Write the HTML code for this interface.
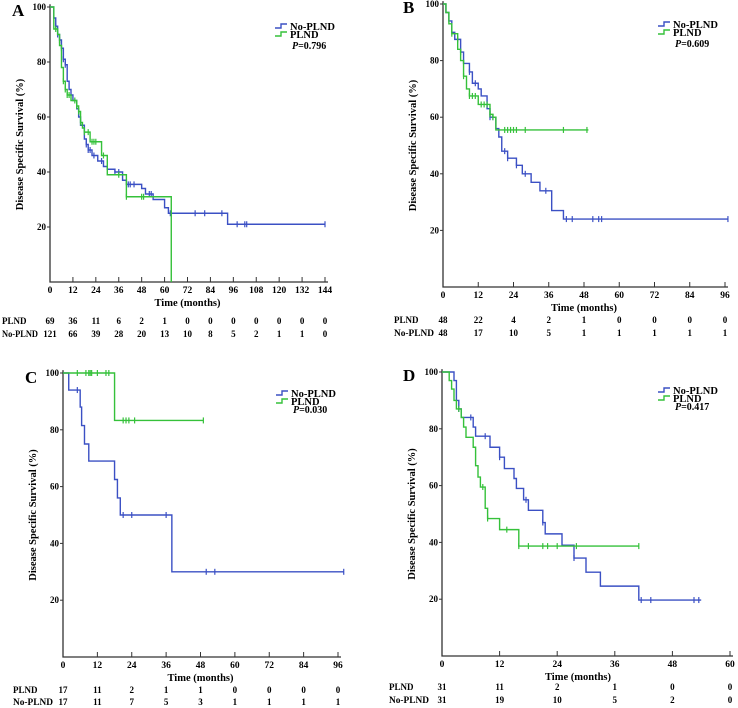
<!DOCTYPE html>
<html><head><meta charset="utf-8"><style>
html,body{margin:0;padding:0;background:#fff;}
svg{display:block;font-family:"Liberation Serif",serif;font-weight:bold;}
</style></head><body>
<svg id="c" width="738" height="708" viewBox="0 0 738 708"></svg>
<script>
// Panel A data
const aTicks=[0,12,24,36,48,60,72,84,96,108,120,132,144];
const aBlueT=[0,2,3,4,5,6,7,8,9,10,11,12,14,15,16,18,19,20,22,25,28,30,34,38,40,48,50,54,60,62,93];
const aBlueS=[100,96,93,90,88,85,81,79,73,70,68,66,63,60,57,52,50,48,46,44,42,41,40,37,35.5,34,32,30,27,25,21];
const aBlueC=[3,4,5,6,7,8,19,20,21,23,27,34,36,41,42,44,52,53,63,76,81,90,98,102,103,144];
const aGreenT=[0,2,4,5,6,7,8,9,11,14,15,16,17,18,21,27,30,38,40,63.5];
const aGreenS=[100,92,90,86,78,73,70,68,66,64,62,58,56,54.5,51,46,39,39,31,0];
const aGreenC=[3,7,8,9,10,13,14,15,16,18,20,22,23,24,28,36,40,48,49];
const aRiskP=[69,36,11,6,2,1,0,0,0,0,0,0,0];
const aRiskN=[121,66,39,28,20,13,10,8,5,2,1,1,0];
// Panel B data
const bTicks=[0,12,24,36,48,60,72,84,96];
const bBlueT=[0,1,2,3,4,6,7,9,10,12,13,15,16,18,19,20,22,25,27,30,33,37,41];
const bBlueS=[100,97,94,90,87.5,83,79,76,72,70,67.5,63,60,56,53,48,45.5,43,40,37,34,27,24];
const bBlueC=[5,6,9,11,16,17,21,22,25,28,35,42,44,51,53,54,97];
const bGreenT=[0,1,2,3,5,6,7,8,9,12,16,17,18];
const bGreenS=[100,97,93,89.5,84,80,74.5,70,67.5,64.5,61,60,55.5];
const bGreenC=[3,7,9,10,11,13,14,15,16,17,21,22,23,24,25,28,41,49];
const bRiskP=[48,22,4,2,1,0,0,0,0];
const bRiskN=[48,17,10,5,1,1,1,1,1];
// Panel C data
const cTicks=[0,12,24,36,48,60,72,84,96];
const cBlueT=[0,2,6,6.5,7.5,9,18,19,20,38];
const cBlueS=[100,94,88,81.5,75,69,62.5,56,50,30];
const cBlueC=[5,21,24,36,50,53,98];
const cGreenT=[0,18];
const cGreenS=[100,83.3];
const cGreenC=[5,8,9,9.5,10,12,15,16,21,22,23,25,49];
const cRiskP=[17,11,2,1,1,0,0,0,0];
const cRiskN=[17,11,7,5,3,1,1,1,1];
// Panel D data
const dTicks=[0,12,24,36,48,60];
const dBlueT=[0,2.5,3,3.5,4,6.5,7,10,12,13,15,15.5,17,18,21,21.5,25,27.5,30,33,41];
const dBlueS=[100,97,90,87,84,80.6,77.4,73.5,70,66,62.5,59,55,51.3,47,43,39,34.5,29.5,24.6,19.7];
const dBlueC=[3.5,6,9,12,17.5,21,27.5,41.5,43.5,52.5,53.5];
const dGreenT=[0,1.5,2,2.5,3,4,4.5,5,6.5,7,7.5,8,9,9.5,12,16];
const dGreenS=[100,97,94,90,87,84,80.6,77,73.5,67,63,59.5,52,48.4,44.5,38.7];
const dGreenC=[3.5,8.5,9.5,13.5,16,18,21,22,24,28,41];
const dRiskP=[31,11,2,1,0,0];
const dRiskN=[31,19,10,5,2,0];

const NS='http://www.w3.org/2000/svg';
const svg=document.getElementById('c');
function mk(tag,attrs,parent,text){const e=document.createElementNS(NS,tag);for(const k in attrs)e.setAttribute(k,attrs[k]);if(text!==undefined)e.textContent=text;(parent||svg).appendChild(e);return e;}
const BLUE='#3b50c4',GREEN='#35c13a',AX='#333';

function panel(cfg){
  const g=mk('g',{});
  
  
  const X=t=>cfg.x0+t*(cfg.x1-cfg.x0)/cfg.tmax;
  const Y=v=>cfg.y0-v*(cfg.y0-cfg.y100)/100;
  const lbl=mk('text',{x:cfg.lx,y:cfg.ly,'font-size':17},g,cfg.id);
  
  const ax=mk('path',{d:`M${cfg.x0},${Y(101)}V${cfg.y0}H${cfg.x1+3}`,stroke:AX,'stroke-width':1.3,fill:'none'},g);
  
  [20,40,60,80,100].forEach(v=>{
    mk('line',{x1:cfg.x0-3,x2:cfg.x0,y1:Y(v),y2:Y(v),stroke:AX},g);
    const t=mk('text',{x:cfg.x0-4,y:Y(v)+3,'font-size':9,'text-anchor':'end'},g,v);
    
  });
  cfg.ticks.forEach((tk,i)=>{
    mk('line',{x1:X(tk),x2:X(tk),y1:cfg.y0,y2:cfg.y0-5,stroke:AX},g);
    const t=mk('text',{x:X(tk),y:cfg.y0+11,'font-size':9.5,'text-anchor':'middle'},g,tk);
    
    const r1=mk('text',{x:X(tk),y:cfg.r1,'font-size':9,'text-anchor':'middle'},g,cfg.riskP[i]);
    
    const r2=mk('text',{x:X(tk),y:cfg.r2,'font-size':9,'text-anchor':'middle'},g,cfg.riskN[i]);
    
  });
  const rl1=mk('text',{x:cfg.rlx,y:cfg.r1,'font-size':9},g,'PLND');
  
  const rl2=mk('text',{x:cfg.rlx,y:cfg.r2,'font-size':9,textLength:cfg.rlw||35,lengthAdjust:'spacingAndGlyphs'},g,'No-PLND');
  
  const xt=mk('text',{x:(cfg.x0+cfg.x1)/2+cfg.xtOff,y:cfg.y0+24,'font-size':10.5,'text-anchor':'middle'},g,'Time (months)');
  
  const yc=(cfg.y0+cfg.y100)/2;
  const yt=mk('text',{x:0,y:0,'font-size':10.5,'text-anchor':'middle',transform:`translate(${cfg.x0-27},${yc}) rotate(-90)`},g,'Disease Specific  Survival (%)');
  
  function curve(T,S,C,end,color,name){
    let d=`M${X(T[0])},${Y(S[0])}`;
    for(let i=1;i<T.length;i++){d+=`H${X(T[i])}V${Y(S[i])}`;}
    d+=`H${X(end)}`;
    const p=mk('path',{d:d,stroke:color,'stroke-width':1.4,fill:'none'},g);
    
    C.forEach(c=>{let s=S[0];for(let i=0;i<T.length;i++)if(T[i]<=c)s=S[i];
      const m=mk('line',{x1:X(c),x2:X(c),y1:Y(s)-3,y2:Y(s)+3,stroke:color,'stroke-width':1.2},g);
      });
  }
  curve(cfg.bT,cfg.bS,cfg.bC,cfg.bEnd,BLUE,'no-plnd');
  curve(cfg.gT,cfg.gS,cfg.gC,cfg.gEnd,GREEN,'plnd');
  const L=cfg.leg;
  const lg=mk('g',{},g);
  mk('path',{d:`M${L[0]},${L[1]+1}H${L[0]+6}V${L[1]-3}H${L[0]+12}`,stroke:BLUE,'stroke-width':1.4,fill:'none'},lg);
  mk('path',{d:`M${L[0]},${L[1]+9}H${L[0]+6}V${L[1]+5}H${L[0]+12}`,stroke:GREEN,'stroke-width':1.4,fill:'none'},lg);
  const e1=mk('text',{x:L[0]+15,y:L[1]+3,'font-size':10.5},lg,'No-PLND');
  const e2=mk('text',{x:L[0]+15,y:L[1]+11,'font-size':10.5},lg,'PLND');
  const pv=mk('text',{x:L[0]+17,y:L[1]+L[2],'font-size':10},lg);
  
  mk('tspan',{'font-style':'italic'},pv,'P');mk('tspan',{},pv,'='+cfg.p);
}
panel({id:'A',x0:50,x1:325,tmax:144,y0:282,y100:7,ticks:aTicks,riskP:aRiskP,riskN:aRiskN,r1:324,r2:337,rlx:2,rlw:36,xtOff:0,lx:12,ly:16,
  bT:aBlueT,bS:aBlueS,bC:aBlueC,bEnd:144,gT:aGreenT,gS:aGreenS,gC:aGreenC,gEnd:63.5,leg:[275,27,22],p:'0.796'});
panel({id:'B',x0:443,x1:725,tmax:96,y0:287,y100:4,ticks:bTicks,riskP:bRiskP,riskN:bRiskN,r1:323,r2:336,rlx:394,rlw:40,xtOff:0,lx:403,ly:13,
  bT:bBlueT,bS:bBlueS,bC:bBlueC,bEnd:97,gT:bGreenT,gS:bGreenS,gC:bGreenC,gEnd:49.5,leg:[658,25,22],p:'0.609'});
panel({id:'C',x0:63,x1:338,tmax:96,y0:657,y100:373,ticks:cTicks,riskP:cRiskP,riskN:cRiskN,r1:693,r2:705,rlx:13,rlw:40,xtOff:0,lx:25,ly:383,
  bT:cBlueT,bS:cBlueS,bC:cBlueC,bEnd:98,gT:cGreenT,gS:cGreenS,gC:cGreenC,gEnd:49,leg:[276,394,19],p:'0.030'});
panel({id:'D',x0:442,x1:730,tmax:60,y0:656,y100:372,ticks:dTicks,riskP:dRiskP,riskN:dRiskN,r1:690,r2:703,rlx:389,rlw:40,xtOff:-8,lx:403,ly:381,
  bT:dBlueT,bS:dBlueS,bC:dBlueC,bEnd:54,gT:dGreenT,gS:dGreenS,gC:dGreenC,gEnd:41,leg:[658,391,19],p:'0.417'});
</script>
</body></html>
